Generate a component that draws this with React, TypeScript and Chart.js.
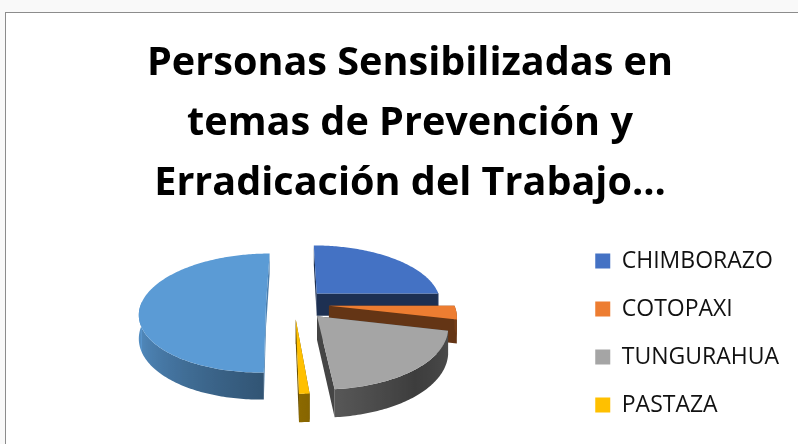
import React, { useEffect, useRef } from "react";
import { Chart, registerables } from "chart.js";

Chart.register(...registerables);

const categories = ["CHIMBORAZO", "COTOPAXI", "TUNGURAHUA", "PASTAZA", ""];
const values = [25, 3.6, 20, 1.1, 50.3];
const sliceColors = ["#4472c4", "#ed7d31", "#a5a5a5", "#ffc000", "#5b9bd5"];
const explode = [33, 35, 34, 32, 28];
const titleLines = ["Personas Sensibilizadas en", "temas de Prevención y", "Erradicación del Trabajo…"];

const SQUASH = 0.465;
const PERSPECTIVE = 0.15;
const DEPTH = 23;
const PIE_CY = 304;
const PIE_CX = 294;
const CANVAS_LEFT = 6;
const CANVAS_TOP = 13;
const FONT = "'Open Sans', Lato, sans-serif";

function shade(hex: string, f: number) {
  const n = parseInt(hex.slice(1), 16);
  const c = (v: number) => Math.round(Math.min(255, v * f));
  return `rgb(${c((n >> 16) & 255)},${c((n >> 8) & 255)},${c(n & 255)})`;
}

// wall brightness by angle, degrees clockwise from the top of the pie
const lightStops: [number, number][] = [[0, 0.8], [90, 0.5], [140, 0.37], [180, 0.55], [270, 0.98], [360, 0.8]];
function light(deg: number) {
  const d = ((deg % 360) + 360) % 360;
  for (let i = 1; i < lightStops.length; i++) {
    const [a, fa] = lightStops[i - 1];
    const [b, fb] = lightStops[i];
    if (d <= b) return fa + ((fb - fa) * (d - a)) / (b - a);
  }
  return 0.8;
}

const pie3d = {
  id: "pie3d",
  beforeDatasetsDraw(chart: any) {
    const ctx = chart.ctx;
    const arcs = chart.getDatasetMeta(0).data;
    const order = [0, 1, 4, 2, 3];
    const x = PIE_CX - CANVAS_LEFT;
    const cy = PIE_CY - CANVAS_TOP;
    for (const i of order) {
      const el = arcs[i];
      const { startAngle, endAngle, outerRadius } = el.getProps(["startAngle", "endAngle", "outerRadius"], true);
      const off = el.options.offset || 0;
      const R = outerRadius;
      const mid = (startAngle + endAngle) / 2;
      const ox = Math.cos(mid) * off;
      const oy = -Math.sin(mid) * off;
      const project = (wx: number, wy: number, z: number) => {
        const f = 1 / (1 + (PERSPECTIVE * wy) / R);
        return [x + wx * f, cy - wy * SQUASH * f + z * f];
      };
      const rim = (a: number, z: number) => project(ox + Math.cos(a) * R, oy - Math.sin(a) * R, z);
      const apex = (z: number) => project(ox, oy, z);
      const base = sliceColors[i];
      const poly = (p: number[][], color: any) => {
        ctx.beginPath();
        p.forEach((q, k) => (k ? ctx.lineTo(q[0], q[1]) : ctx.moveTo(q[0], q[1])));
        ctx.closePath();
        ctx.fillStyle = color;
        ctx.fill();
      };
      const sideFactor = i === 4 ? 0.82 : 0.42;
      poly([apex(0), rim(startAngle, 0), rim(startAngle, DEPTH), apex(DEPTH)], shade(base, sideFactor));
      poly([apex(0), rim(endAngle, 0), rim(endAngle, DEPTH), apex(DEPTH)], shade(base, sideFactor));
      const steps = Math.max(2, Math.ceil(((endAngle - startAngle) * 180) / Math.PI));
      const angles: number[] = [];
      for (let s = 0; s <= steps; s++) angles.push(startAngle + ((endAngle - startAngle) * s) / steps);
      const front = angles.filter((a) => Math.sin(a) > -0.05);
      if (front.length > 1) {
        const xs = front.map((a) => rim(a, 0)[0]);
        const x0 = Math.min(...xs);
        const x1 = Math.max(...xs);
        const grad = ctx.createLinearGradient(x0, 0, x1, 0);
        front.forEach((a, k) => {
          const deg = ((a + Math.PI / 2) * 180) / Math.PI;
          grad.addColorStop(x1 > x0 ? (xs[k] - x0) / (x1 - x0) : 0, shade(base, light(deg)));
        });
        poly([...front.map((a) => rim(a, 0)), ...[...front].reverse().map((a) => rim(a, DEPTH))], grad);
      }
      poly([apex(0), ...angles.map((a) => rim(a, 0))], base);
    }
    return false;
  },
};

export default function App() {
  const ref = useRef<HTMLCanvasElement>(null);
  useEffect(() => {
    const chart = new Chart(ref.current as HTMLCanvasElement, {
      type: "pie",
      data: {
        labels: categories,
        datasets: [{ data: values, backgroundColor: sliceColors, borderWidth: 0, offset: explode }],
      },
      plugins: [pie3d],
      options: {
        animation: false,
        responsive: false,
        radius: 125,
        layout: { padding: { top: 21, right: 28, bottom: 0, left: 25 } },
        plugins: {
          tooltip: { enabled: false },
          title: {
            display: true,
            text: titleLines,
            color: "#000000",
            align: "center",
            font: { family: FONT, size: 39.6, weight: "bold", lineHeight: 1.515 },
            padding: { top: 0, bottom: 0 },
          },
          legend: {
            position: "right",
            align: "center",
            labels: {
              color: "#111111",
              boxWidth: 15,
              boxHeight: 15,
              padding: 25,
              font: { family: FONT, size: 23 },
              filter: (item: any) => item.text !== "",
            },
          },
        },
      },
    } as any);
    return () => chart.destroy();
  }, []);
  return (
    <div style={{ position: "fixed", left: 0, top: 0, width: 798, height: 444, overflow: "hidden", background: "#f9f9f9" }}>
      <div style={{ position: "absolute", left: 5, top: 12, width: 811, height: 619, background: "#ffffff", border: "1px solid #8c8c8c" }}>
        <canvas ref={ref} width={811} height={619} style={{ display: "block" }} />
      </div>
    </div>
  );
}
